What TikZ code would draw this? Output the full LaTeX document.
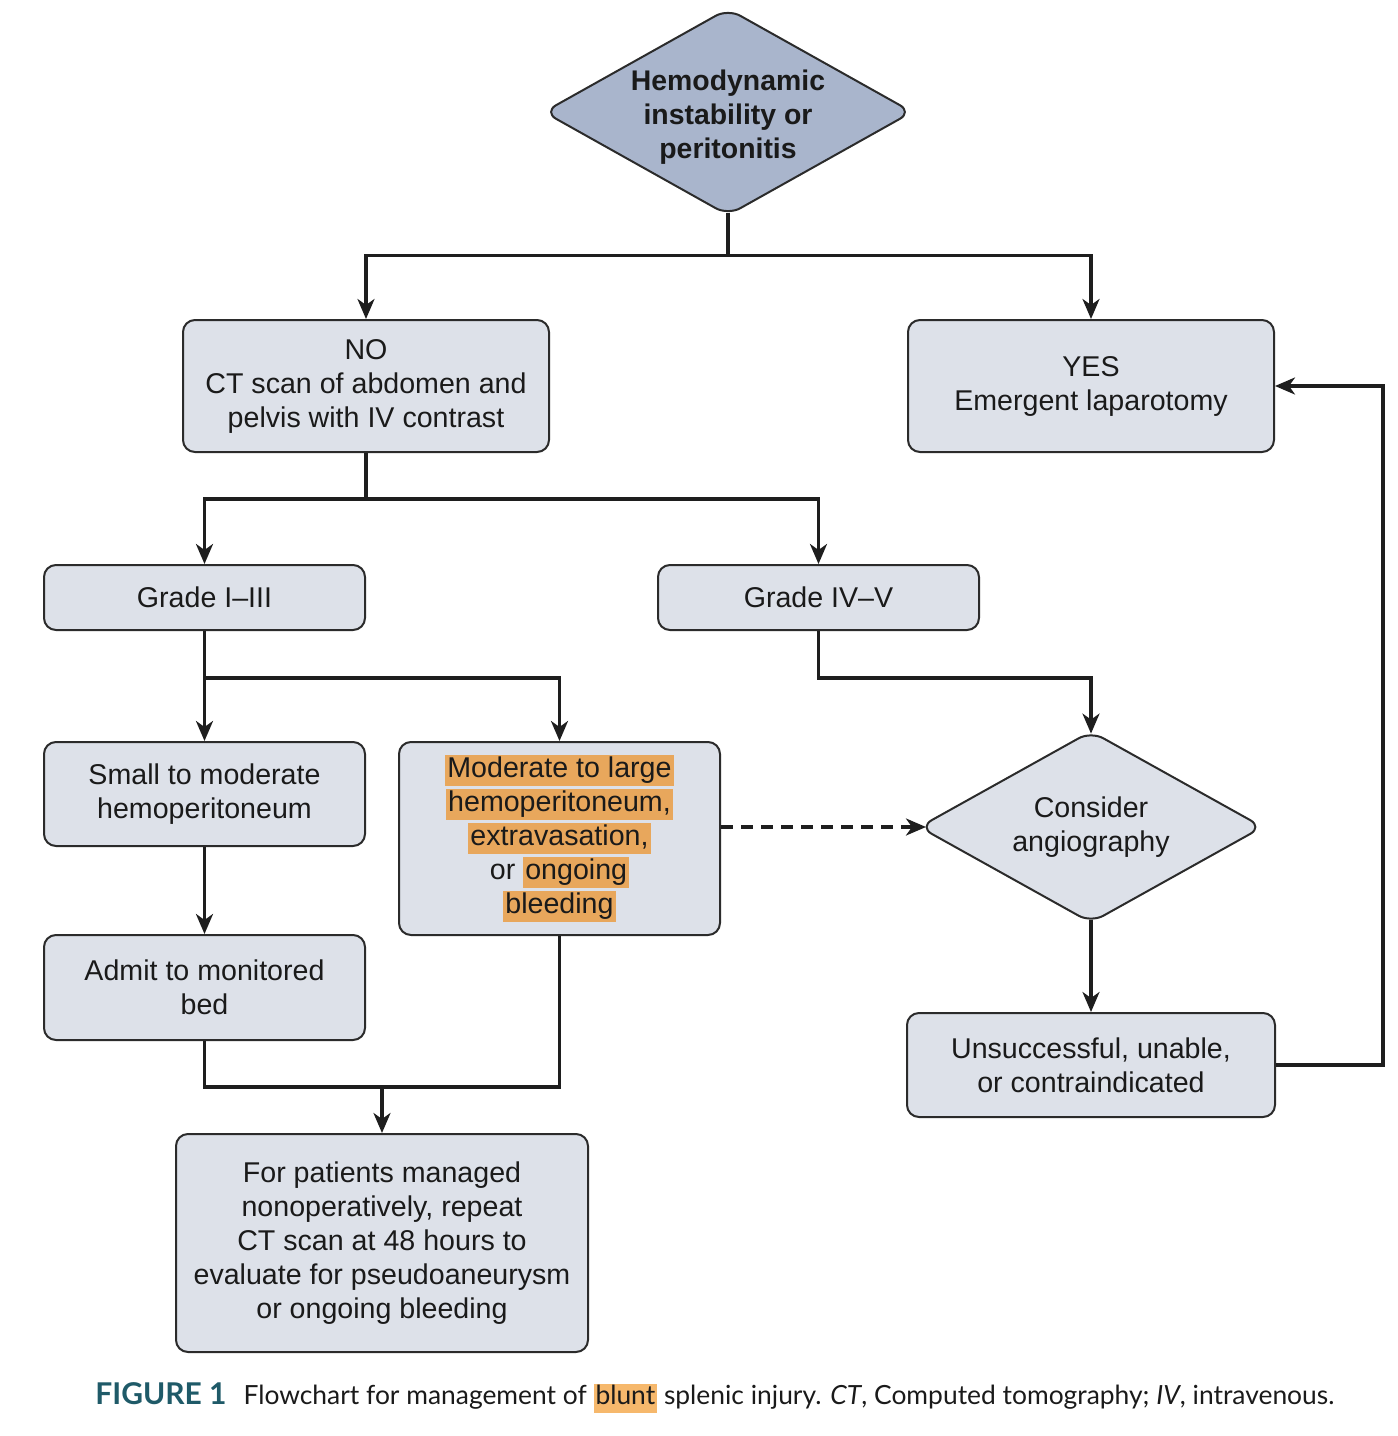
\documentclass[tikz,border=0pt]{standalone}
\usepackage{fontspec}
\setmainfont{Liberation Sans}
\newfontfamily\capfont{Lato}
\usetikzlibrary{shapes.geometric,arrows.meta}
\definecolor{boxfill}{HTML}{DDE1E9}
\definecolor{topfill}{HTML}{A9B5CC}
\definecolor{edge}{HTML}{2B2B2B}
\definecolor{lineclr}{HTML}{1E1E1E}
\definecolor{txt}{HTML}{1A1A1A}
\definecolor{hlc}{HTML}{E8A75C}
\definecolor{caphl}{HTML}{F6B86C}
\definecolor{teal}{HTML}{1F5A68}
\newcommand{\hlt}[1]{{\setlength{\fboxsep}{1pt}\colorbox{hlc}{\rule[-3.6pt]{0pt}{13.6pt}#1}}}
\tikzset{
  box/.style={draw=edge, line width=1pt, fill=boxfill, rounded corners=6pt, align=center,
    text=txt, font=\fontsize{14.3}{17}\selectfont, inner sep=0pt},
  dia/.style={draw=edge, line width=1pt, shape=diamond, rounded corners=7pt, align=center,
    text=txt, inner sep=0pt, aspect=1.78},
  conn/.style={draw=lineclr, line width=1.6pt},
  arr/.style={conn, -{Stealth[length=10pt,width=8.5pt,inset=3pt]}},
}
\begin{document}
\begin{tikzpicture}[x=0.5pt,y=-0.5pt]
\useasboundingbox (0,0) rectangle (1398,1436);
% nodes
\node[dia, fill=topfill, minimum width=184.5pt, minimum height=103.5pt, inner sep=-6pt,
  font=\bfseries\fontsize{14.2}{17}\selectfont] (top) at (728,112)
  {\rule{0pt}{15.6pt}Hemodynamic\\instability or\\peritonitis};
\node[box, minimum width=183pt, minimum height=66pt] (no) at (366,386)
  {NO\\CT scan of abdomen and\\pelvis with IV contrast};
\node[box, minimum width=183pt, minimum height=66pt] (yes) at (1091,386)
  {YES\\Emergent laparotomy};
\node[box, minimum width=160.5pt, minimum height=32.5pt] (g13) at (204.5,597.5)
  {Grade I--III};
\node[box, minimum width=160.5pt, minimum height=32.5pt] (g45) at (818.5,597.5)
  {Grade IV--V};
\node[box, minimum width=160.5pt, minimum height=52pt] (small) at (204.5,794)
  {Small to moderate\\hemoperitoneum};
\node[box, minimum width=160.5pt, minimum height=96.5pt] (modl) at (559.5,838.5)
  {\hlt{Moderate to large}\\\hlt{hemoperitoneum,}\\\hlt{extravasation,}\\or \hlt{ongoing}\\\hlt{bleeding}};
\node[dia, fill=boxfill, minimum width=172pt, minimum height=96pt,
  font=\fontsize{14.3}{17}\selectfont] (angio) at (1091,827)
  {Consider\\angiography};
\node[box, minimum width=160.5pt, minimum height=52.5pt] (admit) at (204.5,987.5)
  {Admit to monitored\\bed};
\node[box, minimum width=184pt, minimum height=52pt] (uns) at (1091,1065)
  {Unsuccessful, unable,\\or contraindicated};
\node[box, minimum width=206pt, minimum height=109pt] (forp) at (382,1243)
  {For patients managed\\nonoperatively, repeat\\CT scan at 48 hours to\\evaluate for pseudoaneurysm\\or ongoing bleeding};
% connectors
\draw[arr, shorten <=-2pt] (top.south) -- ++(0,39) -| (no.north);
\draw[arr, shorten <=-2pt] (top.south) -- ++(0,39) -| (yes.north);
\draw[arr] (no.south) -- ++(0,46) -| (g13.north);
\draw[arr] (no.south) -- ++(0,46) -| (g45.north);
\draw[arr] (g13.south) -- ++(0,47) -| (small.north);
\draw[arr] (g13.south) -- ++(0,47) -| (modl.north);
\draw[arr, shorten >=-1.8pt] (g45.south) -- ++(0,47) -| (angio.north);
\draw[arr, dashed, dash pattern=on 6pt off 4pt, shorten >=-4pt] (modl.east |- angio.west) -- (angio.west);
\draw[arr, shorten <=-2pt] (angio.south) -- (uns.north);
\draw[arr] (uns.east) -- ++(107,0) |- (yes.east);
\draw[arr] (small.south) -- (admit.north);
\draw[conn] (admit.south) -- ++(0,46) -| (modl.south);
\coordinate (jm) at (382,1086);
\draw[arr] (jm) -- (forp.north);
% caption
\node[anchor=west, inner sep=0pt, font=\capfont\fontsize{13.2}{16}\selectfont, text=txt] (cap) at (95,1398)
  {{\fontsize{15}{16}\selectfont\bfseries\color{teal}FIGURE 1}\hspace{8.5pt}Flowchart for management of {\setlength{\fboxsep}{1pt}\colorbox{caphl}{\rule[-3pt]{0pt}{12pt}blunt}} splenic injury. \textit{CT}, Computed tomography; \textit{IV}, intravenous.};
\end{tikzpicture}
\end{document}
